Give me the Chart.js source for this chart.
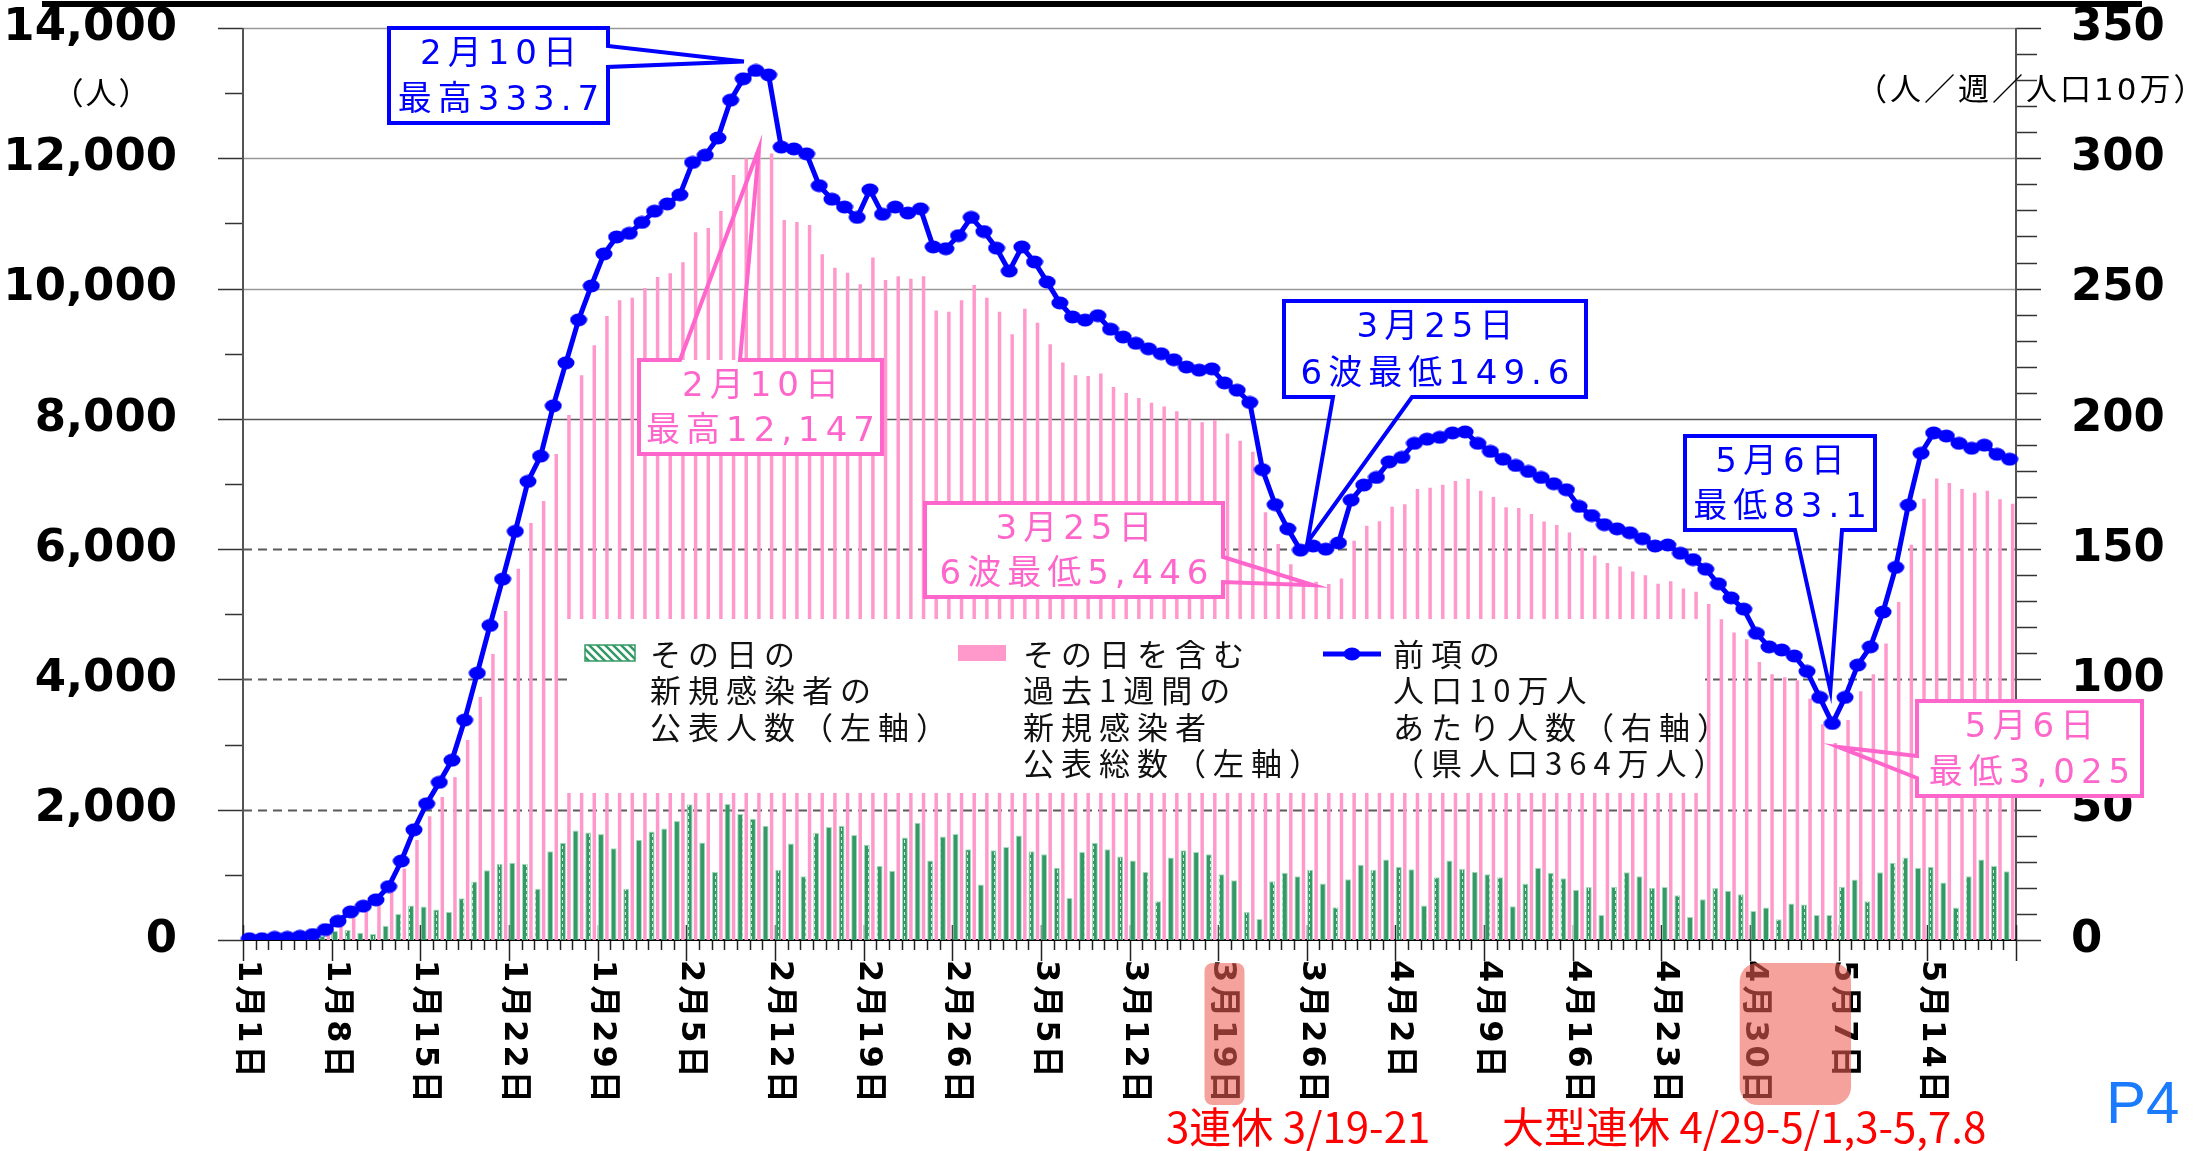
<!DOCTYPE html>
<html>
<head>
<meta charset="utf-8">
<script src="https://cdn.jsdelivr.net/npm/chart.js"></script>
<style>
  html, body { margin: 0; padding: 0; background: #ffffff; }
  #wrap { width: 2194px; height: 1151px; }
</style>
</head>
<body>
<div id="wrap"><canvas id="chart" width="2194" height="1151"></canvas></div>
<script>
// daily new cases (left axis)
const dailyCases = [
  4, 2, 12, 9, 18, 30, 60, 138, 154, 113,
  92, 220, 400, 528, 513, 467, 431, 641, 897, 1072,
  1169, 1185, 1169, 785, 1364, 1492, 1682, 1651, 1626, 1410,
  785, 1538, 1667, 1713, 1826, 2085, 1497, 1046, 2087, 1933,
  1862, 1754, 1077, 1482, 979, 1641, 1733, 1754, 1610, 1462,
  1138, 1062, 1574, 1800, 1220, 1590, 1626, 1395, 851, 1379,
  1426, 1605, 1364, 1318, 1108, 646, 1349, 1492, 1395, 1282,
  1220, 1046, 595, 1267, 1379, 1349, 1318, 1010, 918, 431,
  323, 903, 1031, 979, 1077, 867, 503, 933, 1154, 1077,
  1236, 1123, 1087, 528, 964, 1220, 1092, 1046, 1010, 964,
  518, 867, 1108, 1031, 949, 769, 815, 385, 815, 1041,
  979, 800, 815, 687, 354, 626, 800, 754, 703, 446,
  497, 318, 559, 544, 385, 385, 815, 928, 595, 1041,
  1185, 1267, 1108, 1123, 882, 497, 979, 1236, 1138, 1056
];

// 7-day totals (left axis)
const weeklyTotal = [
  18, 18, 36, 36, 51, 76, 146, 240, 350, 430,
  540, 745, 1095, 1535, 1900, 2195, 2500, 3070, 3730, 4390,
  5050, 5700, 6400, 6740, 7460, 8060, 8670, 9130, 9580, 9822,
  9860, 10009, 10178, 10235, 10403, 10863, 10929, 11191, 11745, 11998,
  12147, 12073, 11051, 11022, 10976, 10525, 10319, 10244, 10066, 10478,
  10131, 10188, 10150, 10188, 9662, 9643, 9822, 10056, 9859, 9643,
  9300, 9690, 9475, 9146, 8865, 8668, 8659, 8696, 8490, 8396,
  8321, 8246, 8190, 8115, 7993, 7946, 7983, 7777, 7664, 7495,
  6567, 6079, 5769, 5446, 5500, 5465, 5550, 6130, 6360, 6430,
  6651, 6689, 6923, 6942, 6989, 7045, 7080, 6895, 6801, 6642,
  6632, 6538, 6426, 6370, 6257, 6023, 5901, 5788, 5732, 5657,
  5600, 5469, 5507, 5394, 5347, 5159, 4925, 4719, 4615, 4268,
  4081, 4034, 3987, 3705, 3311, 3025, 3377, 3818, 4081, 4550,
  5188, 6069, 6773, 7083, 7017, 6923, 6867, 6895, 6764, 6698
];

// per 100k population per week (right axis)
const per100k = [
  0.5, 0.5, 1.0, 1.0, 1.4, 2.1, 4.0, 7.2, 10.8, 13.0,
  15.4, 20.5, 30.3, 42.3, 52.3, 60.5, 69.0, 84.4, 102.4, 120.7,
  138.5, 156.8, 176.0, 185.7, 205.0, 221.5, 238.0, 251.0, 263.3, 269.8,
  271.2, 275.4, 279.7, 282.5, 286.0, 298.4, 301.2, 307.8, 322.3, 330.5,
  333.7, 332.0, 304.3, 303.6, 301.7, 289.5, 284.3, 281.3, 277.3, 287.9,
  278.5, 281.3, 279.0, 280.6, 266.0, 265.3, 270.3, 277.3, 271.9, 265.5,
  256.7, 266.0, 260.2, 252.5, 244.5, 239.1, 237.9, 239.6, 234.4, 231.4,
  229.0, 226.9, 225.0, 222.7, 219.9, 218.7, 219.2, 213.8, 211.0, 206.3,
  180.5, 167.1, 157.8, 149.6, 151.2, 150.0, 152.4, 168.8, 174.6, 177.5,
  183.5, 185.2, 190.6, 192.2, 192.9, 194.6, 195.0, 190.6, 187.5, 184.5,
  182.1, 179.8, 177.5, 175.1, 172.8, 166.4, 162.9, 159.4, 157.8, 156.3,
  154.0, 151.2, 151.6, 148.4, 146.0, 142.3, 136.7, 131.3, 127.0, 117.7,
  112.5, 111.3, 109.0, 103.1, 93.1, 83.1, 93.1, 105.5, 112.5, 125.9,
  143.0, 166.9, 186.8, 194.6, 193.4, 190.6, 188.7, 189.9, 186.4, 184.5
];

const tickLabels = [
  '1月1日', '1月8日', '1月15日', '1月22日', '1月29日', '2月5日', '2月12日',
  '2月19日', '2月26日', '3月5日', '3月12日', '3月19日', '3月26日', '4月2日',
  '4月9日', '4月16日', '4月23日', '4月30日', '5月7日', '5月14日'
];

// one category per day starting 2022-01-01
const dayLabels = [];
for (let i = 0; i < dailyCases.length; i++) {
  const d = new Date(2022, 0, 1 + i);
  dayLabels.push((d.getMonth() + 1) + '月' + d.getDate() + '日');
}

const BLUE = '#0000ff';
const PINK = '#ff99cc';
const PINK_TEXT = '#ff66cc';
const GREEN = '#339966';
const JP = '"DejaVu Sans", "Noto Sans CJK JP", sans-serif';
const AXIS_FONT = 'bold 45px "DejaVu Sans", sans-serif';

const canvas = document.getElementById('chart');
const ctx = canvas.getContext('2d');

// green bars: solid green with a light dashed stripe that lands in some bars
function makeGreenFill() {
  const c = document.createElement('canvas');
  c.width = 9; c.height = 6;
  const g = c.getContext('2d');
  g.fillStyle = GREEN; g.fillRect(0, 0, 9, 6);
  g.fillStyle = '#d5eedd'; g.fillRect(4, 0, 1, 3);
  return ctx.createPattern(c, 'repeat');
}

function makeHatch() {
  const c = document.createElement('canvas');
  c.width = 8; c.height = 8;
  const g = c.getContext('2d');
  g.fillStyle = '#fff'; g.fillRect(0, 0, 8, 8);
  g.strokeStyle = GREEN; g.lineWidth = 2.5;
  g.beginPath();
  g.moveTo(-4, 4); g.lineTo(4, 12);
  g.moveTo(0, 0); g.lineTo(8, 8);
  g.moveTo(4, -4); g.lineTo(12, 4);
  g.stroke();
  return ctx.createPattern(c, 'repeat');
}

// horizontal ellipse marker for the blue line
const dot = document.createElement('canvas');
dot.width = 18; dot.height = 14;
(function () {
  const g = dot.getContext('2d');
  g.fillStyle = BLUE;
  g.beginPath(); g.ellipse(9, 7, 8.5, 6.5, 0, 0, Math.PI * 2); g.fill();
})();

const greenFill = makeGreenFill();
const hatch = makeHatch();

// callout boxes: box = [x, y, w, h], wedge side and its two base points
const callouts = [
  { ds: 2, day: '2月10日', color: BLUE, lines: ['2月10日', '最高333.7'],
    box: [389, 28, 219, 95], side: 'right', a: 46, b: 67, dx: -12, dy: -9 },
  { ds: 1, day: '2月10日', color: PINK_TEXT, lines: ['2月10日', '最高12,147'],
    box: [639, 360, 243, 94], side: 'top', a: 680, b: 740, dx: 0, dy: 0 },
  { ds: 2, day: '3月25日', color: BLUE, lines: ['3月25日', '6波最低149.6'],
    box: [1284, 301, 302, 96], side: 'bottom', a: 1333, b: 1412, dx: 7, dy: -8 },
  { ds: 1, day: '3月25日', color: PINK_TEXT, lines: ['3月25日', '6波最低5,446'],
    box: [925, 503, 298, 94], side: 'right', a: 557, b: 582, dx: 10, dy: 0 },
  { ds: 2, day: '5月6日', color: BLUE, lines: ['5月6日', '最低83.1'],
    box: [1685, 436, 190, 94], side: 'bottom', a: 1795, b: 1842, dx: -2, dy: -33 },
  { ds: 1, day: '5月6日', color: PINK_TEXT, lines: ['5月6日', '最低3,025'],
    box: [1917, 701, 225, 95], side: 'left', a: 756, b: 778, dx: 3, dy: 4 }
];

function drawCallout(c, chart, co) {
  const el = chart.getDatasetMeta(co.ds).data[dayLabels.indexOf(co.day)];
  const tx = el.x + co.dx, ty = el.y + co.dy;
  const [x, y, w, h] = co.box;
  c.save();
  c.fillStyle = '#fff';
  c.fillRect(x, y, w, h);
  c.strokeStyle = co.color;
  c.lineWidth = 4;
  c.lineJoin = 'miter';
  c.beginPath();
  c.moveTo(x, y);
  if (co.side === 'top') { c.lineTo(co.a, y); c.lineTo(tx, ty); c.lineTo(co.b, y); }
  c.lineTo(x + w, y);
  if (co.side === 'right') { c.lineTo(x + w, co.a); c.lineTo(tx, ty); c.lineTo(x + w, co.b); }
  c.lineTo(x + w, y + h);
  if (co.side === 'bottom') { c.lineTo(co.b, y + h); c.lineTo(tx, ty); c.lineTo(co.a, y + h); }
  c.lineTo(x, y + h);
  if (co.side === 'left') { c.lineTo(x, co.b); c.lineTo(tx, ty); c.lineTo(x, co.a); }
  c.closePath();
  c.stroke();
  c.fillStyle = co.color;
  c.font = '34px ' + JP;
  c.letterSpacing = '6px';
  c.textAlign = 'center';
  c.textBaseline = 'middle';
  c.fillText(co.lines[0], x + w / 2 + 3, y + h * 0.285);
  c.fillText(co.lines[1], x + w / 2 + 3, y + h * 0.77);
  c.restore();
}

function drawLegend(c) {
  c.save();
  c.fillStyle = '#fff';
  c.fillRect(567, 619, 1138, 174);
  // swatches
  c.fillStyle = hatch;
  c.fillRect(585, 645, 50, 16);
  c.strokeStyle = GREEN; c.lineWidth = 1.5;
  c.strokeRect(585, 645, 50, 16);
  c.fillStyle = PINK;
  c.fillRect(958, 645, 48, 16);
  c.strokeStyle = BLUE; c.lineWidth = 5;
  c.beginPath(); c.moveTo(1323, 654); c.lineTo(1381, 654); c.stroke();
  c.drawImage(dot, 1352 - 9, 654 - 7);
  // texts
  c.fillStyle = '#111';
  c.font = '31px "Noto Sans CJK JP", sans-serif';
  c.letterSpacing = '7px';
  c.textAlign = 'left';
  c.textBaseline = 'middle';
  const cols = [
    [650, ['その日の', '新規感染者の', '公表人数（左軸）']],
    [1023, ['その日を含む', '過去1週間の', '新規感染者', '公表総数（左軸）']],
    [1393, ['前項の', '人口10万人', 'あたり人数（右軸）', '（県人口364万人）']]
  ];
  cols.forEach(([lx, lines]) => {
    lines.forEach((t, k) => c.fillText(t, lx, 654 + k * 36.5));
  });
  c.restore();
}

const framePlugin = {
  id: 'frame',
  beforeDatasetsDraw(chart) {
    const c = chart.ctx;
    const { left, right, top, bottom } = chart.chartArea;
    const y = chart.scales.y, y2 = chart.scales.y2;
    c.save();
    // horizontal grid
    for (let v = 2000; v <= 14000; v += 2000) {
      const py = Math.round(y.getPixelForValue(v)) + 0.5;
      c.beginPath();
      if (v <= 6000) { c.setLineDash([9, 6]); c.strokeStyle = '#5a5a5a'; c.lineWidth = 2; }
      else if (v === 8000) { c.setLineDash([]); c.strokeStyle = '#555'; c.lineWidth = 1.5; }
      else { c.setLineDash([]); c.strokeStyle = '#999'; c.lineWidth = 1.5; }
      c.moveTo(left, py); c.lineTo(right, py); c.stroke();
    }
    c.setLineDash([]);
    // left ticks
    c.strokeStyle = '#333'; c.lineWidth = 1.5;
    for (let v = 0; v <= 14000; v += 1000) {
      const py = Math.round(y.getPixelForValue(v)) + 0.5;
      c.beginPath(); c.moveTo(v % 2000 === 0 ? left - 25 : left - 18, py); c.lineTo(left, py); c.stroke();
    }
    // right ticks
    for (let v = 0; v <= 350; v += 10) {
      const py = Math.round(y2.getPixelForValue(v)) + 0.5;
      c.beginPath(); c.moveTo(right, py); c.lineTo(v % 50 === 0 ? right + 25 : right + 21, py); c.stroke();
    }
    // axis lines
    c.strokeStyle = '#555'; c.lineWidth = 2;
    c.beginPath(); c.moveTo(left, top); c.lineTo(left, bottom); c.stroke();
    c.beginPath(); c.moveTo(right, top); c.lineTo(right, bottom); c.stroke();
    // x ticks on category boundaries
    const xs = chart.scales.x;
    const cw = (xs.right - xs.left) / dayLabels.length;
    c.strokeStyle = '#222'; c.lineWidth = 1.5;
    for (let k = 0; k <= dayLabels.length; k++) {
      const px = Math.round(xs.left + k * cw) + 0.5;
      c.beginPath();
      if (k % 7 === 0) { c.moveTo(px, bottom - 15); c.lineTo(px, bottom + 21); }
      else { c.moveTo(px, bottom); c.lineTo(px, bottom + 10); }
      c.stroke();
    }
    c.strokeStyle = '#000'; c.lineWidth = 2;
    c.beginPath(); c.moveTo(left, bottom); c.lineTo(right, bottom); c.stroke();
    c.restore();
  },
  beforeDatasetDraw(chart, args) {
    if (args.index === 2) drawLegend(chart.ctx);
  },
  afterDraw(chart) {
    const c = chart.ctx;
    const xs = chart.scales.x;
    const { left, right } = chart.chartArea;
    c.save();
    // top rule
    c.fillStyle = '#000';
    c.fillRect(42, 1, 2100, 6);
    // y tick labels from the scales
    c.font = AXIS_FONT;
    c.textBaseline = 'middle';
    c.textAlign = 'right';
    chart.scales.y.ticks.forEach(t => {
      c.fillText(t.value.toLocaleString('en-US'), left - 66, chart.scales.y.getPixelForValue(t.value));
    });
    c.textAlign = 'left';
    chart.scales.y2.ticks.forEach(t => {
      c.fillText(String(t.value), right + 55, chart.scales.y2.getPixelForValue(t.value));
    });
    // x labels, rotated to read downward
    c.font = 'bold 32px ' + JP;
    c.letterSpacing = '3px';
    c.textAlign = 'left';
    c.textBaseline = 'middle';
    tickLabels.forEach(t => {
      const px = xs.getPixelForValue(dayLabels.indexOf(t));
      c.save();
      c.translate(px - 2, 960);
      c.rotate(Math.PI / 2);
      c.fillText(t, 0, 0);
      c.restore();
    });
    // holiday highlights over the labels
    c.fillStyle = 'rgba(240, 95, 85, 0.58)';
    const hl = (d1, d2, padL, padR, r) => {
      const x1 = xs.getPixelForValue(dayLabels.indexOf(d1)) - padL;
      const x2 = xs.getPixelForValue(dayLabels.indexOf(d2)) + padR;
      c.beginPath(); c.roundRect(x1, 963, x2 - x1, 142, r); c.fill();
    };
    hl('3月19日', '3月19日', 20, 20, 8);
    hl('4月29日', '5月7日', 4, 6, 18);
    // axis titles
    c.fillStyle = '#000';
    c.font = '31px "Noto Sans CJK JP", sans-serif';
    c.letterSpacing = '2px';
    c.textAlign = 'center';
    c.fillText('（人）', 102, 92);
    c.font = '31px ' + JP;
    c.letterSpacing = '3px';
    c.textAlign = 'left';
    c.fillText('（人／週／人口10万）', 1856, 92);
    // notes
    c.fillStyle = '#ff0000';
    c.letterSpacing = '0px';
    c.font = '42px "Noto Sans CJK JP", sans-serif';
    c.fillText('3連休 3/19-21', 1166, 1127);
    c.fillText('大型連休 4/29-5/1,3-5,7.8', 1502, 1127);
    c.fillStyle = '#1a7bff';
    c.font = '60px "Liberation Sans", sans-serif';
    c.textBaseline = 'alphabetic';
    c.fillText('P4', 2106, 1123);
    c.restore();
    callouts.forEach(co => drawCallout(c, chart, co));
  }
};

new Chart(ctx, {
  data: {
    labels: dayLabels,
    datasets: [
      {
        type: 'bar',
        label: 'その日の新規感染者の公表人数（左軸）',
        data: dailyCases,
        yAxisID: 'y',
        backgroundColor: greenFill,
        borderColor: '#a6dbbb',
        borderWidth: 1,
        barPercentage: 1.0,
        categoryPercentage: 0.95,
        order: 1
      },
      {
        type: 'bar',
        label: 'その日を含む過去1週間の新規感染者公表総数（左軸）',
        data: weeklyTotal,
        yAxisID: 'y',
        backgroundColor: PINK,
        barPercentage: 0.58,
        categoryPercentage: 0.95,
        order: 2
      },
      {
        type: 'line',
        label: '前項の人口10万人あたり人数（右軸）',
        data: per100k,
        yAxisID: 'y2',
        borderColor: BLUE,
        borderWidth: 5,
        pointStyle: dot,
        pointRadius: 8,
        tension: 0,
        order: 0
      }
    ]
  },
  options: {
    responsive: false,
    animation: false,
    devicePixelRatio: 1,
    layout: { padding: { top: 28, left: 0, right: 0, bottom: 0 } },
    plugins: { legend: { display: false }, tooltip: { enabled: false } },
    scales: {
      x: {
        grid: { display: false },
        border: { display: false },
        ticks: { display: false },
        afterFit(s) { s.height = 211; }
      },
      y: {
        position: 'left',
        min: 0,
        max: 14000,
        grid: { display: false },
        border: { display: false },
        ticks: { display: false, stepSize: 2000 },
        afterFit(s) { s.width = 243; }
      },
      y2: {
        position: 'right',
        min: 0,
        max: 350,
        grid: { display: false },
        border: { display: false },
        ticks: { display: false, stepSize: 50 },
        afterFit(s) { s.width = 178; }
      }
    }
  },
  plugins: [framePlugin]
});
</script>
</body>
</html>
